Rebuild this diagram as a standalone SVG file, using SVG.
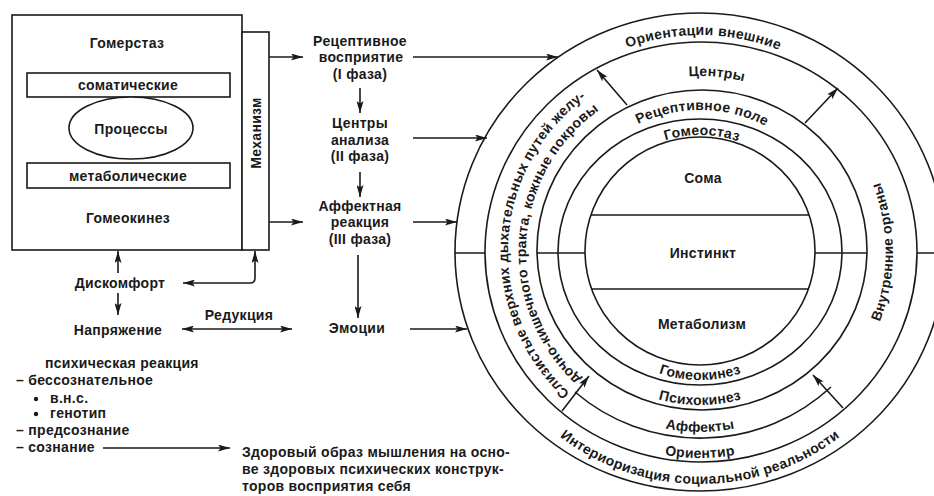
<svg xmlns="http://www.w3.org/2000/svg" width="934" height="496" viewBox="0 0 934 496">
<defs>
<style>
.t{font-family:"Liberation Sans",Arial,sans-serif;font-size:14px;font-weight:bold;fill:#1a1a1a;letter-spacing:0.3px}
.m{text-anchor:middle}
.ln{stroke:#1a1a1a;stroke-width:1.6;fill:none}
.bx{stroke:#1a1a1a;stroke-width:1.6;fill:#fff}
.ar{stroke:#1a1a1a;stroke-width:1.6;fill:none;marker-end:url(#ah)}
.ar2{stroke:#1a1a1a;stroke-width:1.6;fill:none;marker-end:url(#ah);marker-start:url(#ah)}
</style>
<marker id="ah" viewBox="0 0 12 7" refX="12" refY="3.5" markerWidth="12" markerHeight="7" markerUnits="userSpaceOnUse" orient="auto-start-reverse">
<path d="M0,0 L12,3.5 L0,7 L2.5,3.5 z" fill="#1a1a1a"/>
</marker>
<path id="pOr" d="M 483 252 A 217 217 0 0 1 917 252"/>
<path id="pCe" d="M 524 252 A 176 176 0 0 1 876 252"/>
<path id="pRe" d="M 558 252 A 142 142 0 0 1 842 252"/>
<path id="pGs" d="M 583 252 A 117 117 0 0 1 817 252"/>
<path id="pGk" d="M 572 252 A 128 128 0 0 0 828 252"/>
<path id="pPs" d="M 547 252 A 153 153 0 0 0 853 252"/>
<path id="pAf" d="M 520 252 A 180 180 0 0 0 880 252"/>
<path id="pOt" d="M 494 252 A 206 206 0 0 0 906 252"/>
<path id="pIn" d="M 468 252 A 232 232 0 0 0 932 252"/>
<path id="pVn" d="M 700 445 A 193 193 0 0 0 700 59"/>
<path id="pS1" d="M 700 444 A 192 192 0 0 1 700 60"/>
<path id="pS2" d="M 700 426 A 174 174 0 0 1 700 78"/>
</defs>
<rect width="934" height="496" fill="#fff"/>

<g id="left-box">
<rect class="bx" x="12" y="15" width="230" height="235"/>
<text class="t m" x="127" y="48">Гомерстаз</text>
<rect class="bx" x="27" y="73" width="203" height="24"/>
<text class="t m" x="128" y="90">соматические</text>
<rect class="bx" x="27" y="163" width="203" height="25"/>
<text class="t m" x="128" y="181">метаболические</text>
<ellipse class="bx" cx="131" cy="128" rx="62" ry="31"/>
<text class="t m" x="131" y="134">Процессы</text>
<text class="t m" x="128" y="223">Гомеокинез</text>
</g>
<g id="mechanism">
<rect class="bx" x="242" y="32" width="27" height="218"/>
<text class="t m" transform="translate(261,133) rotate(-90)">Механизм</text>
</g>

<g id="phase1"><text class="t m" x="360" y="46">Рецептивное</text><text class="t m" x="361" y="62">восприятие</text><text class="t m" x="360" y="79">(I фаза)</text></g>
<g id="phase2"><text class="t m" x="360" y="128">Центры</text><text class="t m" x="360" y="145">анализа</text><text class="t m" x="360" y="161">(II фаза)</text></g>
<g id="phase3"><text class="t m" x="360" y="211">Аффектная</text><text class="t m" x="360" y="227">реакция</text><text class="t m" x="360" y="244">(III фаза)</text></g>
<g id="emotions"><text class="t m" x="357" y="333">Эмоции</text></g>
<g id="discomfort"><text class="t m" x="120" y="288">Дискомфорт</text></g>
<g id="tension"><text class="t m" x="118" y="335">Напряжение</text></g>
<g id="reduction"><text class="t m" x="239" y="320">Редукция</text></g>

<g id="list">
<text class="t" x="45" y="368">психическая реакция</text>
<text class="t" x="16" y="385">– бессознательное</text>
<circle cx="36" cy="399" r="2.2" fill="#1a1a1a"/>
<text class="t" x="50" y="403">в.н.с.</text>
<circle cx="36" cy="414" r="2.2" fill="#1a1a1a"/>
<text class="t" x="50" y="418">генотип</text>
<text class="t" x="16" y="435">– предсознание</text>
<text class="t" x="16" y="452">– сознание</text>
</g>
<g id="healthy">
<text class="t" x="242" y="457">Здоровый образ мышления на осно-</text>
<text class="t" x="242" y="474">ве здоровых психических конструк-</text>
<text class="t" x="242" y="491">торов восприятия себя</text>
</g>

<g id="circle">
<ellipse class="ln" cx="700" cy="252" rx="245" ry="239"/>
<ellipse class="ln" cx="701" cy="252" rx="216" ry="210"/>
<ellipse class="ln" cx="702" cy="250" rx="165" ry="160"/>
<ellipse class="ln" cx="700" cy="252" rx="142" ry="133"/>
<ellipse class="ln" cx="700" cy="251" rx="115" ry="114"/>
<path class="ln" d="M 831 387 A 190 186 0 0 1 575 392"/>
<path class="ln" d="M 591 215 L 809 215 M 592 289 L 808 289"/>
<path class="ln" d="M 455 253 L 485 253 M 537 253 L 585 253 M 815 253 L 867 253 M 917 253 L 934 253"/>
<text class="t m"><textPath href="#pOr" startOffset="50.5%">Ориентации внешние</textPath></text>
<text class="t m"><textPath href="#pCe" startOffset="53%">Центры</textPath></text>
<text class="t m"><textPath href="#pRe" startOffset="50.5%">Рецептивное поле</textPath></text>
<text class="t m"><textPath href="#pGs" startOffset="50.5%">Гомеостаз</textPath></text>
<text class="t m" x="703" y="183">Сома</text>
<text class="t m" x="703" y="258">Инстинкт</text>
<text class="t m" x="702" y="329">Метаболизм</text>
<text class="t m"><textPath href="#pGk" startOffset="50%">Гомеокинез</textPath></text>
<text class="t m"><textPath href="#pPs" startOffset="50%">Психокинез</textPath></text>
<text class="t m"><textPath href="#pAf" startOffset="50%">Аффекты</textPath></text>
<text class="t m"><textPath href="#pOt" startOffset="50%">Ориентир</textPath></text>
<text class="t m"><textPath href="#pIn" startOffset="50%">Интериоризация социальной реальности</textPath></text>
<text class="t m"><textPath href="#pVn" startOffset="50%">Внутренние органы</textPath></text>
<text class="t m"><textPath href="#pS1" startOffset="312">Слизистые верхних дыхательных путей желу-</textPath></text>
<text class="t m"><textPath href="#pS2" startOffset="285">дочно-кишечного тракта, кожные покровы</textPath></text>
</g>

<g id="connectors">
<path class="ar" d="M 269 57 L 303 57"/>
<path class="ar" d="M 269 222 L 303 222"/>
<path class="ar" d="M 360 88 L 360 113"/>
<path class="ar" d="M 360 172 L 360 197"/>
<path class="ar" d="M 358 255 L 358 318"/>
<path class="ar" d="M 413 57 L 558 57"/>
<path class="ar" d="M 413 138 L 487 138"/>
<path class="ar" d="M 413 222 L 457 222"/>
<path class="ar" d="M 410 329 L 467 329"/>
<path class="ar" d="M 118 273 L 118 251"/>
<path class="ar" d="M 118 293 L 118 315"/>
<path class="ar2" d="M 183 283 L 250 283 Q 255 283 255 278 L 255 251"/>
<path class="ar2" d="M 182 329 L 292 329"/>
<path class="ar" d="M 103 448 L 230 448"/>
<path class="ar" d="M 627 105 L 597 70"/>
<path class="ar" d="M 805 123 L 838 88"/>
<path class="ar" d="M 562 411 L 589 376"/>
<path class="ar" d="M 843 408 L 813 375"/>
</g>
</svg>
